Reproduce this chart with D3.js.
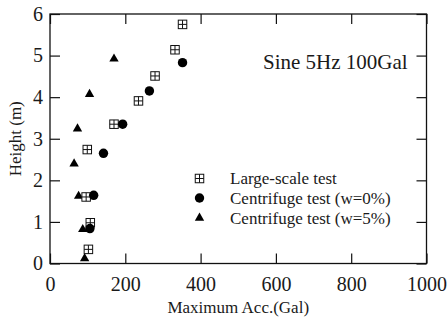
<!DOCTYPE html>
<html><head><meta charset="utf-8">
<script src="https://cdn.jsdelivr.net/npm/d3@7"></script>
<style>body{margin:0;background:#fff}svg{display:block}svg text{font-family:"Liberation Serif","Times New Roman","DejaVu Serif",serif;fill:#1a1a1a}</style>
</head><body><div id="chart"></div>
<script>
const largeAcc = [352, 332, 279, 235, 170, 99, 96, 107, 102];
const largeH   = [5.75, 5.14, 4.51, 3.91, 3.35, 2.74, 1.60, 0.98, 0.34];
const cf0Acc = [352, 264, 193, 142, 116, 106];
const cf0H   = [4.83, 4.15, 3.35, 2.65, 1.64, 0.84];
const cf5Acc = [170, 105, 73, 64, 76, 87, 92];
const cf5H   = [4.92, 4.07, 3.24, 2.40, 1.62, 0.82, 0.12];
const xTicks = [0, 200, 400, 600, 800, 1000];
const yTicks = [0, 1, 2, 3, 4, 5, 6];
const legendLabels = ["Large-scale test", "Centrifuge test (w=0%)", "Centrifuge test (w=5%)"];
const annotation = "Sine 5Hz 100Gal";

const FONT = '"Liberation Serif","Times New Roman","DejaVu Serif",serif';
const W = 447, H = 320;
const m = {l: 50, r: 20.5, t: 14, b: 56.5};
const svg = d3.select("#chart").append("svg").attr("width", W).attr("height", H);
const x = d3.scaleLinear().domain([0, 1000]).range([m.l, W - m.r]);
const y = d3.scaleLinear().domain([0, 6]).range([H - m.b, m.t]);
const tl = 10;

svg.append("rect").attr("x", x(0)).attr("y", y(6)).attr("width", x(1000) - x(0)).attr("height", y(0) - y(6))
  .attr("fill", "none").attr("stroke", "#111").attr("stroke-width", 1.3);

const gx = svg.append("g").attr("transform", `translate(0,${y(0)})`)
  .call(d3.axisBottom(x).tickValues(xTicks).tickSize(-tl).tickPadding(13).tickFormat(d3.format("d")));
const gxt = svg.append("g").attr("transform", `translate(0,${y(6)})`)
  .call(d3.axisTop(x).tickValues(xTicks).tickSize(-tl).tickFormat(""));
const gy = svg.append("g").attr("transform", `translate(${x(0)},0)`)
  .call(d3.axisLeft(y).tickValues(yTicks).tickSize(-tl).tickPadding(7).tickFormat(d3.format("d")));
const gyr = svg.append("g").attr("transform", `translate(${x(1000)},0)`)
  .call(d3.axisRight(y).tickValues(yTicks).tickSize(-tl).tickFormat(""));
[gx, gxt, gy, gyr].forEach(g => {
  g.attr("font-family", null).attr("font-size", null);
  g.select(".domain").remove();
  g.selectAll(".tick line").attr("stroke", "#111").attr("stroke-width", 1.2);
  g.selectAll("text").style("font-family", FONT).style("font-size", "20px").attr("fill", "#1a1a1a");
});
gx.selectAll("text").attr("dy", "0.71em");

function label(sel, size) { return sel.style("font-family", FONT).style("font-size", size + "px"); }

label(svg.append("text").attr("x", (x(0) + x(1000)) / 2).attr("y", 313).attr("text-anchor", "middle"), 17)
  .text("Maximum Acc.(Gal)");
label(svg.append("text").attr("transform", `translate(21,${(y(0) + y(6)) / 2}) rotate(-90)`).attr("text-anchor", "middle"), 17)
  .text("Height (m)");
label(svg.append("text").attr("x", 263).attr("y", 69), 21).text(annotation);

function squareSym(g, cx, cy) {
  const s = 8.5;
  g.append("rect").attr("x", cx - s / 2).attr("y", cy - s / 2).attr("width", s).attr("height", s)
    .attr("fill", "#fff").attr("stroke", "#111").attr("stroke-width", 1);
  g.append("line").attr("x1", cx).attr("x2", cx).attr("y1", cy - s / 2).attr("y2", cy + s / 2).attr("stroke", "#111");
  g.append("line").attr("x1", cx - s / 2).attr("x2", cx + s / 2).attr("y1", cy).attr("y2", cy).attr("stroke", "#111");
}
function circleSym(g, cx, cy) {
  g.append("circle").attr("cx", cx).attr("cy", cy).attr("r", 4.7).attr("fill", "#000");
}
function triSym(g, cx, cy) {
  g.append("path").attr("d", d3.symbol(d3.symbolTriangle, 38)()).attr("transform", `translate(${cx},${cy})`).attr("fill", "#000");
}

const pts = svg.append("g");
cf5Acc.forEach((a, i) => triSym(pts, x(a), y(cf5H[i])));
largeAcc.forEach((a, i) => squareSym(pts, x(a), y(largeH[i])));
cf0Acc.forEach((a, i) => circleSym(pts, x(a), y(cf0H[i])));

const syms = [squareSym, circleSym, triSym];
const leg = svg.append("g");
const ly = [178.5, 198, 218];
legendLabels.forEach((t, i) => {
  syms[i](leg, 199.5, ly[i]);
  label(leg.append("text").attr("x", 230).attr("y", ly[i]).attr("dy", "0.35em"), 17).text(t);
});
</script></body></html>
